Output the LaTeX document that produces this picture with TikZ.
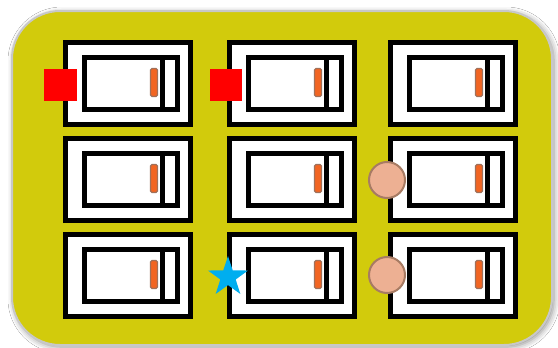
\documentclass[tikz,border=0pt]{standalone}
\usetikzlibrary{shadows.blur}
\definecolor{panel}{RGB}{210,203,12}
\definecolor{panelborder}{RGB}{200,200,200}
\definecolor{peach}{RGB}{237,176,147}
\definecolor{peachborder}{RGB}{167,123,99}
\definecolor{barfill}{RGB}{242,101,34}
\definecolor{barborder}{RGB}{160,112,90}
\definecolor{starblue}{RGB}{0,174,239}
\begin{document}
\begin{tikzpicture}[x=1pt,y=-1pt,
  panelbox/.style={fill=panel,draw=panelborder,line width=2pt,rounded corners=48pt,
    blur shadow={shadow xshift=2pt,shadow yshift=-2pt,shadow blur radius=6pt,shadow opacity=45}},
  outerframe/.style={draw=black,line width=5pt,fill=white},
  innerframe/.style={draw=black,line width=5pt,fill=white},
  divider/.style={draw=black,line width=5pt},
  levelbar/.style={fill=barfill,draw=barborder,line width=1.2pt,rounded corners=1.5pt},
  redmark/.style={fill=red},
  knob/.style={fill=peach,draw=peachborder,line width=2pt},
  starmark/.style={fill=starblue}]
\useasboundingbox (0,0) rectangle (558,348);
\fill[white] (0,0) rectangle (558,348);
\path[panelbox] (12,11) rectangle (552,345);
\foreach \L in {63,227,388}{
  \foreach \T in {40,136,232}{
    \draw[outerframe] ({\L+2.5},{\T+2.5}) rectangle ({\L+127.5},{\T+84.5});
    \draw[innerframe] ({\L+21.5},{\T+17}) rectangle ({\L+114.5},{\T+69.5});
    \draw[divider] ({\L+99.5},{\T+17}) -- ({\L+99.5},{\T+69.5});
    \draw[levelbar] ({\L+87.5},{\T+28.5}) rectangle ({\L+94.5},{\T+56.5});
  }
}
\fill[redmark] (44,69) rectangle (77,101);
\fill[redmark] (210,69) rectangle (242,101);
\draw[knob] (387,180) circle[radius=18];
\draw[knob] (387,275) circle[radius=18];
\fill[starmark] (228,256)
  \foreach \i in {1,...,9}{
    -- ({228+(mod(\i,2)==0?21:8.1)*cos(-90+36*\i)},{277+(mod(\i,2)==0?21:8.1)*sin(-90+36*\i)})
  } -- cycle;
\end{tikzpicture}
\end{document}
